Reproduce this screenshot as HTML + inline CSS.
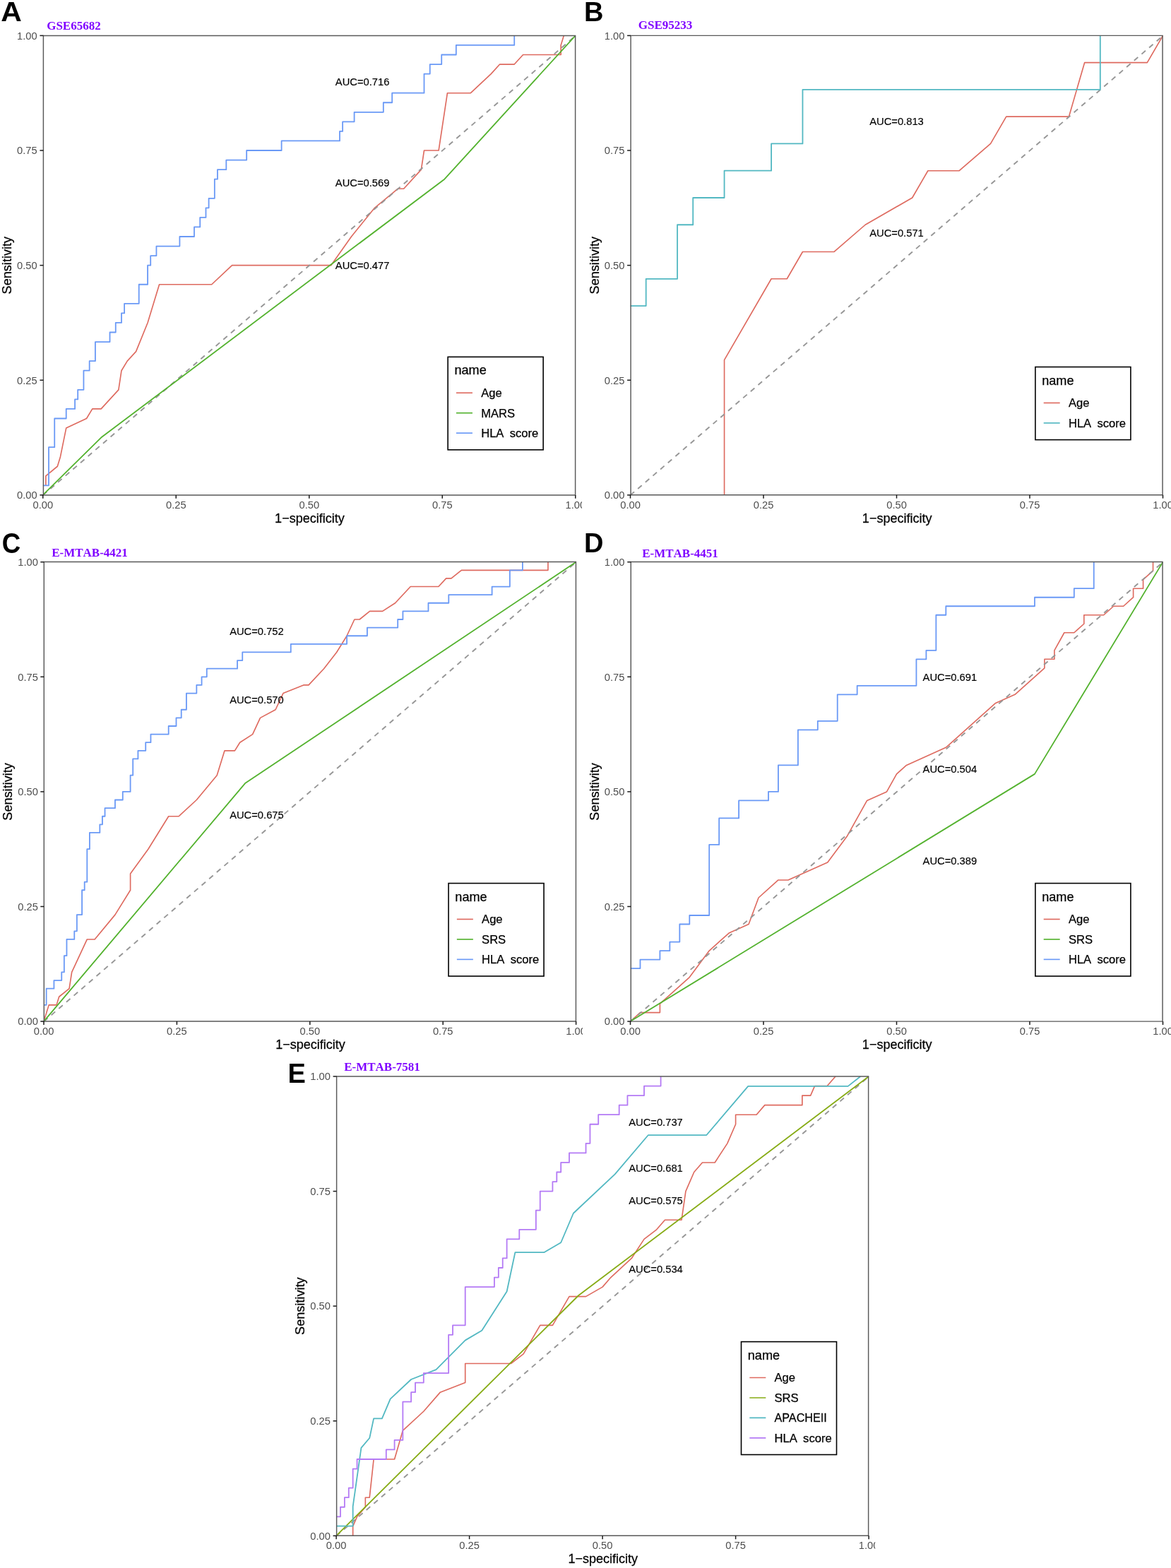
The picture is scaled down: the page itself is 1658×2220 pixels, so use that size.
<!DOCTYPE html>
<html lang="en">
<head>
<meta charset="utf-8">
<title>ROC curves</title>
<style>
html,body{margin:0;padding:0;background:#fff}
body{width:1658px;height:2220px;overflow:hidden}
svg{display:block}
.tk{font-family:'Liberation Sans', Arial, Helvetica, sans-serif;font-size:14.7px;fill:#4D4D4D}
.ax{font-family:'Liberation Sans', Arial, Helvetica, sans-serif;font-size:18.3px;fill:#000;stroke:#000;stroke-width:0.25px}
.auc{font-family:'Liberation Sans', Arial, Helvetica, sans-serif;font-size:14.75px;fill:#000;stroke:#000;stroke-width:0.15px}
.lt{font-family:'Liberation Sans', Arial, Helvetica, sans-serif;font-size:18.1px;fill:#000;stroke:#000;stroke-width:0.25px}
.ll{font-family:'Liberation Sans', Arial, Helvetica, sans-serif;font-size:16.6px;fill:#000;stroke:#000;stroke-width:0.25px;white-space:pre}
.pl{font-family:'Liberation Sans', Arial, Helvetica, sans-serif;font-size:38px;font-weight:bold;fill:#000}
.tt{font-family:'Liberation Serif', 'Times New Roman', Times, serif;font-size:17px;font-weight:bold;fill:#7F00FF;font-kerning:none}
.cv{fill:none;stroke-width:1.8;stroke-linejoin:round;stroke-linecap:butt}
.dg{fill:none;stroke:#969696;stroke-width:1.9;stroke-dasharray:7.3 6.76}
.fr{fill:none;stroke:#585858;stroke-width:1.45}
.tm{fill:none;stroke:#1a1a1a;stroke-width:1.5}
.lb{fill:#fff;stroke:#000;stroke-width:1.6}
</style>
</head>
<body>

<svg width="1658" height="2220" viewBox="0 0 1658 2220">
<rect x="0" y="0" width="1658" height="2220" fill="#fff"/>
<defs>
<clipPath id="clipA"><rect x="0" y="0" width="824.1" height="760"/></clipPath>
<clipPath id="inA"><rect x="60.45" y="50.1" width="754.6" height="651.1"/></clipPath>
<clipPath id="clipB"><rect x="824.1" y="0" width="833.9" height="760"/></clipPath>
<clipPath id="inB"><rect x="892.2" y="50.1" width="754.6" height="651.1"/></clipPath>
<clipPath id="clipC"><rect x="0" y="745" width="825" height="755"/></clipPath>
<clipPath id="inC"><rect x="61.7" y="795.4" width="754.2" height="651"/></clipPath>
<clipPath id="clipD"><rect x="825" y="745" width="833" height="755"/></clipPath>
<clipPath id="inD"><rect x="892.2" y="795.4" width="754.6" height="651"/></clipPath>
<clipPath id="clipE"><rect x="400" y="1490" width="839.2" height="730"/></clipPath>
<clipPath id="inE"><rect x="475.8" y="1523.7" width="754.6" height="651"/></clipPath>
</defs>
<g id="panelA" clip-path="url(#clipA)">
<g clip-path="url(#inA)">
<polyline class="cv" stroke="#DE6A5F" style="stroke-width:1.65" points="64.87,687.35 64.87,673.8 81.35,660.24 85.47,646.69 93.71,606.04 122.55,592.48 130.79,578.93 143.15,578.93 167.88,551.83 172,524.72 180.24,511.17 192.6,497.62 209.08,456.96 225.56,402.75 299.72,402.75 328.56,375.65 468.65,375.65 497.49,334.99 530.45,294.34 563.42,267.23 571.66,267.23 596.38,240.13 600.5,213.02 621.1,213.02 633.46,131.71 666.42,131.71 695.26,104.61 707.62,91.06 728.23,91.06 740.59,77.5 794.15,77.5 794.15,63.95 798.27,50.4"/>
<line class="dg" x1="60.75" y1="701.15" x2="814.75" y2="50.65"/>
<polyline class="cv" stroke="#53B22E" points="60.75,700.9 143.15,619.59 629.34,253.68 814.75,50.4"/>
<polyline class="cv" stroke="#6A99F6" points="60.75,687.35 68.99,687.35 68.99,633.14 77.23,633.14 77.23,592.48 93.71,592.48 93.71,578.93 106.07,578.93 106.07,565.38 110.19,565.38 110.19,551.83 118.43,551.83 118.43,524.72 126.67,524.72 126.67,511.17 134.91,511.17 134.91,484.07 155.52,484.07 155.52,470.51 163.76,470.51 163.76,456.96 172,456.96 172,443.41 176.12,443.41 176.12,429.86 196.72,429.86 196.72,402.75 209.08,402.75 209.08,375.65 213.2,375.65 213.2,362.1 221.44,362.1 221.44,348.55 254.4,348.55 254.4,334.99 275,334.99 275,321.44 283.24,321.44 283.24,307.89 291.48,307.89 291.48,294.34 295.6,294.34 295.6,280.79 303.84,280.79 303.84,253.68 307.96,253.68 307.96,240.13 320.32,240.13 320.32,226.58 349.17,226.58 349.17,213.02 398.61,213.02 398.61,199.47 481.01,199.47 481.01,185.92 485.13,185.92 485.13,172.37 501.61,172.37 501.61,158.82 542.82,158.82 542.82,145.26 555.18,145.26 555.18,131.71 600.5,131.71 600.5,104.61 608.74,104.61 608.74,91.06 625.22,91.06 625.22,77.5 645.82,77.5 645.82,63.95 728.23,63.95 728.23,50.4"/>
</g>
<text class="auc" text-anchor="middle" transform="translate(513.15,120.75) scale(1,1.05)">AUC=0.716</text>
<text class="auc" text-anchor="middle" transform="translate(513.15,263.86) scale(1,1.05)">AUC=0.569</text>
<text class="auc" text-anchor="middle" transform="translate(513.15,380.95) scale(1,1.05)">AUC=0.477</text>
<rect class="lb" x="634.15" y="505.35" width="135" height="131.5"/>
<text class="lt" transform="translate(643.45,530.4)">name</text>
<line x1="645.95" y1="556.25" x2="668.95" y2="556.25" stroke="#DE6A5F" stroke-width="1.65"/>
<text class="ll" xml:space="preserve" transform="translate(681.15,562.1)">Age</text>
<line x1="645.95" y1="584.7" x2="668.95" y2="584.7" stroke="#53B22E" stroke-width="1.65"/>
<text class="ll" xml:space="preserve" transform="translate(681.15,590.55)">MARS</text>
<line x1="645.95" y1="613.15" x2="668.95" y2="613.15" stroke="#6A99F6" stroke-width="1.65"/>
<text class="ll" xml:space="preserve" transform="translate(681.15,619)">HLA  score</text>
<path class="fr" d="M61.4,49.85 V701.45 M814.6,49.85 V701.45 M60.85,50.4 H815.15 M60.85,700.9 H815.15"/>
<line class="tm" x1="56.4" y1="700.9" x2="61.4" y2="700.9"/>
<text class="tk" text-anchor="end" transform="translate(52.55,706.15) scale(1,1.035)">0.00</text>
<line class="tm" x1="60.75" y1="700.9" x2="60.75" y2="705.8"/>
<text class="tk" text-anchor="middle" transform="translate(60.75,719.9) scale(1,1.035)">0.00</text>
<line class="tm" x1="56.4" y1="538.27" x2="61.4" y2="538.27"/>
<text class="tk" text-anchor="end" transform="translate(52.55,543.52) scale(1,1.035)">0.25</text>
<line class="tm" x1="249.25" y1="700.9" x2="249.25" y2="705.8"/>
<text class="tk" text-anchor="middle" transform="translate(249.25,719.9) scale(1,1.035)">0.25</text>
<line class="tm" x1="56.4" y1="375.65" x2="61.4" y2="375.65"/>
<text class="tk" text-anchor="end" transform="translate(52.55,380.9) scale(1,1.035)">0.50</text>
<line class="tm" x1="437.75" y1="700.9" x2="437.75" y2="705.8"/>
<text class="tk" text-anchor="middle" transform="translate(437.75,719.9) scale(1,1.035)">0.50</text>
<line class="tm" x1="56.4" y1="213.02" x2="61.4" y2="213.02"/>
<text class="tk" text-anchor="end" transform="translate(52.55,218.27) scale(1,1.035)">0.75</text>
<line class="tm" x1="626.25" y1="700.9" x2="626.25" y2="705.8"/>
<text class="tk" text-anchor="middle" transform="translate(626.25,719.9) scale(1,1.035)">0.75</text>
<line class="tm" x1="56.4" y1="50.4" x2="61.4" y2="50.4"/>
<text class="tk" text-anchor="end" transform="translate(52.55,55.65) scale(1,1.035)">1.00</text>
<line class="tm" x1="814.75" y1="700.9" x2="814.75" y2="705.8"/>
<text class="tk" text-anchor="middle" transform="translate(814.75,719.9) scale(1,1.035)">1.00</text>
<text class="ax" text-anchor="middle" transform="translate(438.45,739.6) scale(0.985,1.03)">1−specificity</text>
<text class="ax" text-anchor="middle" transform="translate(15.85,375.65) rotate(-90) scale(0.99,1.03)">Sensitivity</text>
<text class="pl" transform="translate(1.3,30.2) scale(1.077,1)">A</text>
<text class="tt" transform="translate(66.2,41.65) scale(1,1.03)">GSE65682</text>
</g>
<g id="panelB" clip-path="url(#clipB)">
<g clip-path="url(#inB)">
<polyline class="cv" stroke="#DE6A5F" style="stroke-width:1.65" points="1025.56,700.9 1025.56,509.58 1092.09,394.78 1114.26,394.78 1136.44,356.52 1180.79,356.52 1225.15,318.25 1291.68,279.99 1313.85,241.72 1358.21,241.72 1402.56,203.46 1424.74,165.19 1513.44,165.19 1535.62,88.66 1624.32,88.66 1646.5,50.4"/>
<line class="dg" x1="892.5" y1="701.15" x2="1646.5" y2="50.65"/>
<polyline class="cv" stroke="#52B8C2" points="892.5,433.05 914.68,433.05 914.68,394.78 959.03,394.78 959.03,318.25 981.21,318.25 981.21,279.99 1025.56,279.99 1025.56,241.72 1092.09,241.72 1092.09,203.46 1136.44,203.46 1136.44,126.93 1557.79,126.93 1557.79,50.4"/>
</g>
<text class="auc" text-anchor="middle" transform="translate(1269.5,177.34) scale(1,1.05)">AUC=0.813</text>
<text class="auc" text-anchor="middle" transform="translate(1269.5,334.76) scale(1,1.05)">AUC=0.571</text>
<rect class="lb" x="1465.9" y="519.55" width="135" height="103.1"/>
<text class="lt" transform="translate(1475.2,544.6)">name</text>
<line x1="1477.7" y1="570.45" x2="1500.7" y2="570.45" stroke="#DE6A5F" stroke-width="1.65"/>
<text class="ll" xml:space="preserve" transform="translate(1512.9,576.3)">Age</text>
<line x1="1477.7" y1="598.9" x2="1500.7" y2="598.9" stroke="#52B8C2" stroke-width="1.65"/>
<text class="ll" xml:space="preserve" transform="translate(1512.9,604.75)">HLA  score</text>
<path class="fr" d="M893.07,49.8 V701.28 M1646.05,49.8 V701.28 M892.52,50.35 H1646.6 M892.52,700.73 H1646.6"/>
<line class="tm" x1="888.07" y1="700.9" x2="893.07" y2="700.9"/>
<text class="tk" text-anchor="end" transform="translate(884.3,706.15) scale(1,1.035)">0.00</text>
<line class="tm" x1="892.5" y1="700.73" x2="892.5" y2="705.63"/>
<text class="tk" text-anchor="middle" transform="translate(892.5,719.9) scale(1,1.035)">0.00</text>
<line class="tm" x1="888.07" y1="538.27" x2="893.07" y2="538.27"/>
<text class="tk" text-anchor="end" transform="translate(884.3,543.52) scale(1,1.035)">0.25</text>
<line class="tm" x1="1081" y1="700.73" x2="1081" y2="705.63"/>
<text class="tk" text-anchor="middle" transform="translate(1081,719.9) scale(1,1.035)">0.25</text>
<line class="tm" x1="888.07" y1="375.65" x2="893.07" y2="375.65"/>
<text class="tk" text-anchor="end" transform="translate(884.3,380.9) scale(1,1.035)">0.50</text>
<line class="tm" x1="1269.5" y1="700.73" x2="1269.5" y2="705.63"/>
<text class="tk" text-anchor="middle" transform="translate(1269.5,719.9) scale(1,1.035)">0.50</text>
<line class="tm" x1="888.07" y1="213.02" x2="893.07" y2="213.02"/>
<text class="tk" text-anchor="end" transform="translate(884.3,218.27) scale(1,1.035)">0.75</text>
<line class="tm" x1="1458" y1="700.73" x2="1458" y2="705.63"/>
<text class="tk" text-anchor="middle" transform="translate(1458,719.9) scale(1,1.035)">0.75</text>
<line class="tm" x1="888.07" y1="50.4" x2="893.07" y2="50.4"/>
<text class="tk" text-anchor="end" transform="translate(884.3,55.65) scale(1,1.035)">1.00</text>
<line class="tm" x1="1646.5" y1="700.73" x2="1646.5" y2="705.63"/>
<text class="tk" text-anchor="middle" transform="translate(1646.5,719.9) scale(1,1.035)">1.00</text>
<text class="ax" text-anchor="middle" transform="translate(1270.2,739.6) scale(0.985,1.03)">1−specificity</text>
<text class="ax" text-anchor="middle" transform="translate(847.6,375.65) rotate(-90) scale(0.99,1.03)">Sensitivity</text>
<text class="pl" transform="translate(827,30.3)">B</text>
<text class="tt" transform="translate(903.8,40.8) scale(1,1.03)">GSE95233</text>
</g>
<g id="panelC" clip-path="url(#clipC)">
<g clip-path="url(#inC)">
<polyline class="cv" stroke="#DE6A5F" style="stroke-width:1.65" points="62,1446.1 69.21,1422.87 80.03,1422.87 83.63,1411.26 98.06,1399.64 101.66,1376.41 123.3,1329.96 134.11,1329.96 162.96,1295.11 184.6,1260.27 184.6,1237.04 209.84,1202.2 238.68,1155.74 253.1,1155.74 278.34,1132.51 307.19,1097.67 318.01,1062.83 332.43,1062.83 339.64,1051.21 357.67,1039.6 368.49,1016.37 390.12,1004.76 400.94,981.53 429.79,969.91 437,969.91 458.63,946.69 476.66,923.46 491.08,900.23 501.9,877 509.11,877 523.53,865.39 541.56,865.39 559.59,853.77 581.23,830.54 620.89,830.54 631.71,818.93 638.92,818.93 653.34,807.31 775.94,807.31 775.94,795.7"/>
<line class="dg" x1="62" y1="1446.35" x2="815.6" y2="795.95"/>
<polyline class="cv" stroke="#53B22E" points="62,1446.1 347,1109.1 815.6,795.7"/>
<polyline class="cv" stroke="#6A99F6" points="62,1422.87 65.61,1422.87 65.61,1399.64 76.42,1399.64 76.42,1388.03 87.24,1388.03 87.24,1376.41 90.85,1376.41 90.85,1353.19 94.45,1353.19 94.45,1329.96 105.27,1329.96 105.27,1318.34 108.87,1318.34 108.87,1295.11 116.09,1295.11 116.09,1260.27 119.69,1260.27 119.69,1248.66 123.3,1248.66 123.3,1202.2 126.9,1202.2 126.9,1178.97 141.33,1178.97 141.33,1167.36 144.93,1167.36 144.93,1155.74 148.54,1155.74 148.54,1144.13 162.96,1144.13 162.96,1132.51 173.78,1132.51 173.78,1120.9 184.6,1120.9 184.6,1097.67 188.2,1097.67 188.2,1074.44 195.41,1074.44 195.41,1062.83 206.23,1062.83 206.23,1051.21 213.44,1051.21 213.44,1039.6 238.68,1039.6 238.68,1027.99 249.5,1027.99 249.5,1016.37 256.71,1016.37 256.71,1004.76 263.92,1004.76 263.92,981.53 278.34,981.53 278.34,969.91 285.56,969.91 285.56,958.3 292.77,958.3 292.77,946.69 336.04,946.69 336.04,935.07 343.25,935.07 343.25,923.46 411.76,923.46 411.76,911.84 491.08,911.84 491.08,900.23 519.93,900.23 519.93,888.61 563.2,888.61 563.2,877 570.41,877 570.41,865.39 606.47,865.39 606.47,853.77 635.31,853.77 635.31,842.16 696.61,842.16 696.61,830.54 721.85,830.54 721.85,807.31 739.88,807.31 739.88,795.7"/>
</g>
<text class="auc" text-anchor="middle" transform="translate(363.44,898.56) scale(1,1.05)">AUC=0.752</text>
<text class="auc" text-anchor="middle" transform="translate(363.44,996.12) scale(1,1.05)">AUC=0.570</text>
<text class="auc" text-anchor="middle" transform="translate(363.44,1158.72) scale(1,1.05)">AUC=0.675</text>
<rect class="lb" x="635.06" y="1250.57" width="135" height="131.5"/>
<text class="lt" transform="translate(644.36,1275.62)">name</text>
<line x1="646.86" y1="1301.47" x2="669.86" y2="1301.47" stroke="#DE6A5F" stroke-width="1.65"/>
<text class="ll" xml:space="preserve" transform="translate(682.06,1307.32)">Age</text>
<line x1="646.86" y1="1329.92" x2="669.86" y2="1329.92" stroke="#53B22E" stroke-width="1.65"/>
<text class="ll" xml:space="preserve" transform="translate(682.06,1335.77)">SRS</text>
<line x1="646.86" y1="1358.37" x2="669.86" y2="1358.37" stroke="#6A99F6" stroke-width="1.65"/>
<text class="ll" xml:space="preserve" transform="translate(682.06,1364.22)">HLA  score</text>
<path class="fr" d="M62.3,794.95 V1446.55 M815.43,794.95 V1446.55 M61.75,795.5 H815.98 M61.75,1446 H815.98"/>
<line class="tm" x1="57.3" y1="1446.1" x2="62.3" y2="1446.1"/>
<text class="tk" text-anchor="end" transform="translate(53.8,1451.35) scale(1,1.035)">0.00</text>
<line class="tm" x1="62" y1="1446" x2="62" y2="1450.9"/>
<text class="tk" text-anchor="middle" transform="translate(62,1465.1) scale(1,1.035)">0.00</text>
<line class="tm" x1="57.3" y1="1283.5" x2="62.3" y2="1283.5"/>
<text class="tk" text-anchor="end" transform="translate(53.8,1288.75) scale(1,1.035)">0.25</text>
<line class="tm" x1="250.4" y1="1446" x2="250.4" y2="1450.9"/>
<text class="tk" text-anchor="middle" transform="translate(250.4,1465.1) scale(1,1.035)">0.25</text>
<line class="tm" x1="57.3" y1="1120.9" x2="62.3" y2="1120.9"/>
<text class="tk" text-anchor="end" transform="translate(53.8,1126.15) scale(1,1.035)">0.50</text>
<line class="tm" x1="438.8" y1="1446" x2="438.8" y2="1450.9"/>
<text class="tk" text-anchor="middle" transform="translate(438.8,1465.1) scale(1,1.035)">0.50</text>
<line class="tm" x1="57.3" y1="958.3" x2="62.3" y2="958.3"/>
<text class="tk" text-anchor="end" transform="translate(53.8,963.55) scale(1,1.035)">0.75</text>
<line class="tm" x1="627.2" y1="1446" x2="627.2" y2="1450.9"/>
<text class="tk" text-anchor="middle" transform="translate(627.2,1465.1) scale(1,1.035)">0.75</text>
<line class="tm" x1="57.3" y1="795.7" x2="62.3" y2="795.7"/>
<text class="tk" text-anchor="end" transform="translate(53.8,800.95) scale(1,1.035)">1.00</text>
<line class="tm" x1="815.6" y1="1446" x2="815.6" y2="1450.9"/>
<text class="tk" text-anchor="middle" transform="translate(815.6,1465.1) scale(1,1.035)">1.00</text>
<text class="ax" text-anchor="middle" transform="translate(439.5,1484.8) scale(0.985,1.03)">1−specificity</text>
<text class="ax" text-anchor="middle" transform="translate(17.1,1120.9) rotate(-90) scale(0.99,1.03)">Sensitivity</text>
<text class="pl" transform="translate(2.8,783) scale(0.965,1.06)">C</text>
<text class="tt" transform="translate(73.2,787.5) scale(1,1.03)">E-MTAB-4421</text>
</g>
<g id="panelD" clip-path="url(#clipD)">
<g clip-path="url(#inD)">
<polyline class="cv" stroke="#DE6A5F" style="stroke-width:1.65" points="892.5,1446.1 906.46,1433.59 934.39,1433.59 934.39,1421.08 976.28,1383.56 1004.2,1346.04 1032.13,1321.02 1060.06,1308.52 1074.02,1270.99 1101.94,1245.98 1115.91,1245.98 1171.76,1220.96 1199.69,1183.44 1227.61,1133.41 1255.54,1120.9 1269.5,1095.88 1283.46,1083.38 1339.31,1058.36 1409.13,995.82 1437.06,983.32 1478.94,945.79 1478.94,933.28 1492.91,933.28 1492.91,920.78 1506.87,895.76 1520.83,895.76 1534.8,883.25 1534.8,870.75 1562.72,870.75 1576.69,858.24 1590.65,858.24 1604.61,845.73 1604.61,833.22 1618.57,833.22 1618.57,820.72 1632.54,808.21 1632.54,795.7"/>
<line class="dg" x1="892.5" y1="1446.35" x2="1646.5" y2="795.95"/>
<polyline class="cv" stroke="#53B22E" points="892.5,1446.1 1464.98,1095.88 1646.5,795.7"/>
<polyline class="cv" stroke="#6A99F6" points="892.5,1371.05 906.46,1371.05 906.46,1358.55 934.39,1358.55 934.39,1346.04 948.35,1346.04 948.35,1333.53 962.31,1333.53 962.31,1308.52 976.28,1308.52 976.28,1296.01 1004.2,1296.01 1004.2,1195.95 1018.17,1195.95 1018.17,1158.42 1046.09,1158.42 1046.09,1133.41 1087.98,1133.41 1087.98,1120.9 1101.94,1120.9 1101.94,1083.38 1129.87,1083.38 1129.87,1033.35 1157.8,1033.35 1157.8,1020.84 1185.72,1020.84 1185.72,983.32 1213.65,983.32 1213.65,970.81 1297.43,970.81 1297.43,933.28 1311.39,933.28 1311.39,920.78 1325.35,920.78 1325.35,870.75 1339.31,870.75 1339.31,858.24 1464.98,858.24 1464.98,845.73 1520.83,845.73 1520.83,833.22 1548.76,833.22 1548.76,795.7"/>
</g>
<text class="auc" text-anchor="middle" transform="translate(1344.9,963.6) scale(1,1.05)">AUC=0.691</text>
<text class="auc" text-anchor="middle" transform="translate(1344.9,1093.68) scale(1,1.05)">AUC=0.504</text>
<text class="auc" text-anchor="middle" transform="translate(1344.9,1223.76) scale(1,1.05)">AUC=0.389</text>
<rect class="lb" x="1465.9" y="1250.57" width="135" height="131.5"/>
<text class="lt" transform="translate(1475.2,1275.62)">name</text>
<line x1="1477.7" y1="1301.47" x2="1500.7" y2="1301.47" stroke="#DE6A5F" stroke-width="1.65"/>
<text class="ll" xml:space="preserve" transform="translate(1512.9,1307.32)">Age</text>
<line x1="1477.7" y1="1329.92" x2="1500.7" y2="1329.92" stroke="#53B22E" stroke-width="1.65"/>
<text class="ll" xml:space="preserve" transform="translate(1512.9,1335.77)">SRS</text>
<line x1="1477.7" y1="1358.37" x2="1500.7" y2="1358.37" stroke="#6A99F6" stroke-width="1.65"/>
<text class="ll" xml:space="preserve" transform="translate(1512.9,1364.22)">HLA  score</text>
<path class="fr" d="M893.27,794.95 V1446.65 M1646.05,794.95 V1446.65 M892.72,795.5 H1646.6 M892.72,1446.1 H1646.6"/>
<line class="tm" x1="888.27" y1="1446.1" x2="893.27" y2="1446.1"/>
<text class="tk" text-anchor="end" transform="translate(884.3,1451.35) scale(1,1.035)">0.00</text>
<line class="tm" x1="892.5" y1="1446.1" x2="892.5" y2="1451"/>
<text class="tk" text-anchor="middle" transform="translate(892.5,1465.1) scale(1,1.035)">0.00</text>
<line class="tm" x1="888.27" y1="1283.5" x2="893.27" y2="1283.5"/>
<text class="tk" text-anchor="end" transform="translate(884.3,1288.75) scale(1,1.035)">0.25</text>
<line class="tm" x1="1081" y1="1446.1" x2="1081" y2="1451"/>
<text class="tk" text-anchor="middle" transform="translate(1081,1465.1) scale(1,1.035)">0.25</text>
<line class="tm" x1="888.27" y1="1120.9" x2="893.27" y2="1120.9"/>
<text class="tk" text-anchor="end" transform="translate(884.3,1126.15) scale(1,1.035)">0.50</text>
<line class="tm" x1="1269.5" y1="1446.1" x2="1269.5" y2="1451"/>
<text class="tk" text-anchor="middle" transform="translate(1269.5,1465.1) scale(1,1.035)">0.50</text>
<line class="tm" x1="888.27" y1="958.3" x2="893.27" y2="958.3"/>
<text class="tk" text-anchor="end" transform="translate(884.3,963.55) scale(1,1.035)">0.75</text>
<line class="tm" x1="1458" y1="1446.1" x2="1458" y2="1451"/>
<text class="tk" text-anchor="middle" transform="translate(1458,1465.1) scale(1,1.035)">0.75</text>
<line class="tm" x1="888.27" y1="795.7" x2="893.27" y2="795.7"/>
<text class="tk" text-anchor="end" transform="translate(884.3,800.95) scale(1,1.035)">1.00</text>
<line class="tm" x1="1646.5" y1="1446.1" x2="1646.5" y2="1451"/>
<text class="tk" text-anchor="middle" transform="translate(1646.5,1465.1) scale(1,1.035)">1.00</text>
<text class="ax" text-anchor="middle" transform="translate(1270.2,1484.8) scale(0.985,1.03)">1−specificity</text>
<text class="ax" text-anchor="middle" transform="translate(847.6,1120.9) rotate(-90) scale(0.99,1.03)">Sensitivity</text>
<text class="pl" transform="translate(827,781.9)">D</text>
<text class="tt" transform="translate(909.2,789.25) scale(1,1.03)">E-MTAB-4451</text>
</g>
<g id="panelE" clip-path="url(#clipE)">
<g clip-path="url(#inE)">
<polyline class="cv" stroke="#DE6A5F" style="stroke-width:1.65" points="499.66,2174.4 499.66,2160.85 505.55,2147.3 517.33,2133.75 517.33,2120.2 523.23,2120.2 529.12,2066 558.57,2066 570.35,2025.35 599.8,1998.25 623.37,1971.15 658.71,1957.6 658.71,1930.5 723.51,1930.5 741.18,1916.95 764.74,1876.3 782.41,1876.3 805.97,1835.65 829.54,1835.65 853.1,1822.1 864.88,1808.55 894.33,1781.45 912.01,1754.35 929.68,1740.8 941.46,1727.25 965.02,1727.25 970.91,1686.6 982.69,1659.5 994.47,1645.95 1012.15,1645.95 1029.82,1618.85 1041.6,1591.75 1041.6,1578.2 1071.05,1578.2 1082.83,1564.65 1135.85,1564.65 1135.85,1551.1 1147.63,1551.1 1153.52,1537.55 1171.19,1537.55 1182.97,1524"/>
<line class="dg" x1="476.1" y1="2174.65" x2="1230.1" y2="1524.25"/>
<polyline class="cv" stroke="#86AB14" points="476.1,2174.4 819.3,1834 1230.1,1524"/>
<polyline class="cv" stroke="#52B8C2" points="476.1,2160.56 499.66,2160.56 499.66,2132.89 511.44,2049.86 523.23,2036.02 529.12,2008.34 540.9,2008.34 552.68,1980.66 582.13,1952.99 617.48,1939.15 658.71,1897.63 682.27,1883.8 717.62,1828.44 729.4,1773.09 770.63,1773.09 794.19,1759.25 811.87,1717.74 870.77,1662.38 917.9,1607.03 1000.37,1607.03 1059.27,1537.84 1200.65,1537.84 1218.32,1524"/>
<polyline class="cv" stroke="#B47AF5" points="476.1,2147.3 481.99,2147.3 481.99,2133.75 487.88,2133.75 487.88,2120.2 493.77,2120.2 493.77,2106.65 499.66,2106.65 499.66,2079.55 505.55,2079.55 505.55,2066 546.79,2066 546.79,2052.45 558.57,2052.45 558.57,2038.9 570.35,2038.9 570.35,1984.7 582.13,1984.7 582.13,1971.15 588.02,1971.15 588.02,1957.6 599.8,1957.6 599.8,1944.05 635.15,1944.05 635.15,1889.85 641.04,1889.85 641.04,1876.3 658.71,1876.3 658.71,1822.1 699.94,1822.1 699.94,1808.55 705.83,1808.55 705.83,1795 711.73,1795 711.73,1781.45 717.62,1781.45 717.62,1754.35 735.29,1754.35 735.29,1740.8 758.85,1740.8 758.85,1713.7 764.74,1713.7 764.74,1686.6 782.41,1686.6 782.41,1673.05 788.3,1673.05 788.3,1659.5 794.19,1659.5 794.19,1645.95 805.97,1645.95 805.97,1632.4 829.54,1632.4 829.54,1618.85 835.43,1618.85 835.43,1591.75 847.21,1591.75 847.21,1578.2 876.66,1578.2 876.66,1564.65 888.44,1564.65 888.44,1551.1 912.01,1551.1 912.01,1537.55 935.57,1537.55 935.57,1524"/>
</g>
<text class="auc" text-anchor="middle" transform="translate(928.5,1594.34) scale(1,1.05)">AUC=0.737</text>
<text class="auc" text-anchor="middle" transform="translate(928.5,1659.38) scale(1,1.05)">AUC=0.681</text>
<text class="auc" text-anchor="middle" transform="translate(928.5,1704.91) scale(1,1.05)">AUC=0.575</text>
<text class="auc" text-anchor="middle" transform="translate(928.5,1802.47) scale(1,1.05)">AUC=0.534</text>
<rect class="lb" x="1049.5" y="1899.63" width="135" height="159.9"/>
<text class="lt" transform="translate(1058.8,1924.68)">name</text>
<line x1="1061.3" y1="1950.53" x2="1084.3" y2="1950.53" stroke="#DE6A5F" stroke-width="1.65"/>
<text class="ll" xml:space="preserve" transform="translate(1096.5,1956.38)">Age</text>
<line x1="1061.3" y1="1978.98" x2="1084.3" y2="1978.98" stroke="#86AB14" stroke-width="1.65"/>
<text class="ll" xml:space="preserve" transform="translate(1096.5,1984.83)">SRS</text>
<line x1="1061.3" y1="2007.43" x2="1084.3" y2="2007.43" stroke="#52B8C2" stroke-width="1.65"/>
<text class="ll" xml:space="preserve" transform="translate(1096.5,2013.28) scale(0.975,1)">APACHEII</text>
<line x1="1061.3" y1="2035.88" x2="1084.3" y2="2035.88" stroke="#B47AF5" stroke-width="1.65"/>
<text class="ll" xml:space="preserve" transform="translate(1096.5,2041.73)">HLA  score</text>
<path class="fr" d="M476.6,1523.35 V2174.85 M1229.6,1523.35 V2174.85 M476.05,1523.9 H1230.15 M476.05,2174.3 H1230.15"/>
<line class="tm" x1="471.6" y1="2174.4" x2="476.6" y2="2174.4"/>
<text class="tk" text-anchor="end" transform="translate(467.9,2179.65) scale(1,1.035)">0.00</text>
<line class="tm" x1="476.1" y1="2174.3" x2="476.1" y2="2179.2"/>
<text class="tk" text-anchor="middle" transform="translate(476.1,2193.4) scale(1,1.035)">0.00</text>
<line class="tm" x1="471.6" y1="2011.8" x2="476.6" y2="2011.8"/>
<text class="tk" text-anchor="end" transform="translate(467.9,2017.05) scale(1,1.035)">0.25</text>
<line class="tm" x1="664.6" y1="2174.3" x2="664.6" y2="2179.2"/>
<text class="tk" text-anchor="middle" transform="translate(664.6,2193.4) scale(1,1.035)">0.25</text>
<line class="tm" x1="471.6" y1="1849.2" x2="476.6" y2="1849.2"/>
<text class="tk" text-anchor="end" transform="translate(467.9,1854.45) scale(1,1.035)">0.50</text>
<line class="tm" x1="853.1" y1="2174.3" x2="853.1" y2="2179.2"/>
<text class="tk" text-anchor="middle" transform="translate(853.1,2193.4) scale(1,1.035)">0.50</text>
<line class="tm" x1="471.6" y1="1686.6" x2="476.6" y2="1686.6"/>
<text class="tk" text-anchor="end" transform="translate(467.9,1691.85) scale(1,1.035)">0.75</text>
<line class="tm" x1="1041.6" y1="2174.3" x2="1041.6" y2="2179.2"/>
<text class="tk" text-anchor="middle" transform="translate(1041.6,2193.4) scale(1,1.035)">0.75</text>
<line class="tm" x1="471.6" y1="1524" x2="476.6" y2="1524"/>
<text class="tk" text-anchor="end" transform="translate(467.9,1529.25) scale(1,1.035)">1.00</text>
<line class="tm" x1="1230.1" y1="2174.3" x2="1230.1" y2="2179.2"/>
<text class="tk" text-anchor="middle" transform="translate(1230.1,2193.4) scale(1,1.035)">1.00</text>
<text class="ax" text-anchor="middle" transform="translate(853.8,2213.1) scale(0.985,1.03)">1−specificity</text>
<text class="ax" text-anchor="middle" transform="translate(431.2,1849.2) rotate(-90) scale(0.99,1.03)">Sensitivity</text>
<text class="pl" transform="translate(407.6,1532.5)">E</text>
<text class="tt" transform="translate(487.2,1515.75) scale(1,1.03)">E-MTAB-7581</text>
</g>
</svg>
</body>
</html>
